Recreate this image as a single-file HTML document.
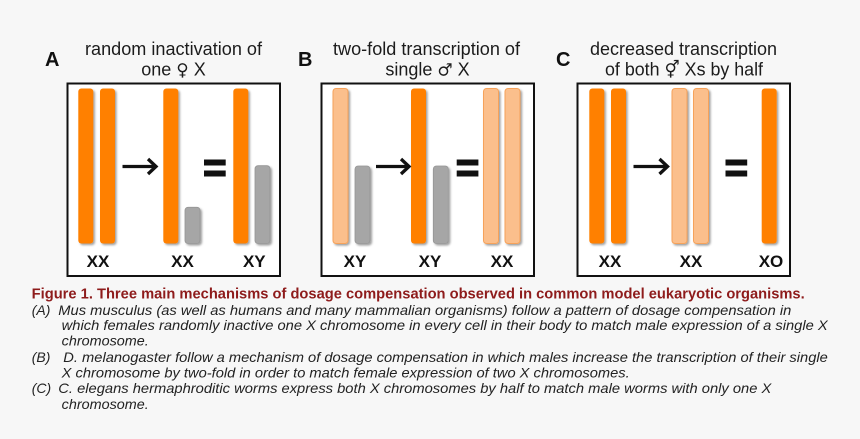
<!DOCTYPE html>
<html>
<head>
<meta charset="utf-8">
<style>
  html, body { margin: 0; padding: 0; background: #f7f7f7; }
  body { width: 860px; height: 439px; overflow: hidden; }
  svg { display: block; }
  .ttl { font-family: "Liberation Sans", "DejaVu Sans", sans-serif; font-size: 18px; fill: #1c1c1c; }
  .sym { font-family: "DejaVu Sans", sans-serif; font-size: 17px; }
  .let { font-family: "Liberation Sans", sans-serif; font-size: 20px; font-weight: bold; fill: #111; }
  .lab { font-family: "Liberation Sans", sans-serif; font-size: 17px; font-weight: bold; fill: #111; }
  .cap { font-family: "Liberation Sans", sans-serif; font-size: 14px; font-style: italic; fill: #222; }
  .head { font-family: "Liberation Sans", sans-serif; font-size: 14.5px; font-weight: bold; fill: #8e1b1b; }
</style>
</head>
<body>
<svg width="860" height="439" viewBox="0 0 860 439" xmlns="http://www.w3.org/2000/svg">
  <defs>
    <filter id="sh" x="-30%" y="-10%" width="180%" height="130%">
      <feDropShadow dx="1.6" dy="1.6" stdDeviation="1" flood-color="#000" flood-opacity="0.38"/>
    </filter>
  </defs>
  <rect x="0" y="0" width="860" height="439" fill="#f7f7f7"/>

  <!-- Panel letters -->
  <text class="let" x="45" y="66">A</text>
  <text class="let" x="298" y="66">B</text>
  <text class="let" x="556" y="66">C</text>

  <!-- Titles -->
  <text class="ttl" x="173.5" y="55" text-anchor="middle" textLength="177" lengthAdjust="spacingAndGlyphs">random inactivation of</text>
  <text class="ttl" x="173.5" y="75.5" text-anchor="middle">one <tspan class="sym">♀</tspan> X</text>
  <text class="ttl" x="426.5" y="55" text-anchor="middle" textLength="187" lengthAdjust="spacingAndGlyphs">two-fold transcription of</text>
  <text class="ttl" x="427.5" y="75.5" text-anchor="middle">single <tspan class="sym">♂</tspan> X</text>
  <text class="ttl" x="683.5" y="55" text-anchor="middle" textLength="187" lengthAdjust="spacingAndGlyphs">decreased transcription</text>
  <text class="ttl" x="684" y="75.5" text-anchor="middle" textLength="158" lengthAdjust="spacingAndGlyphs">of both <tspan class="sym">⚥</tspan> Xs by half</text>

  <!-- Boxes -->
  <rect x="67.5" y="83.5" width="212.5" height="192.5" fill="#fff" stroke="#111" stroke-width="2"/>
  <rect x="321.5" y="83.5" width="212.5" height="192.5" fill="#fff" stroke="#111" stroke-width="2"/>
  <rect x="577.5" y="83.5" width="212.5" height="192.5" fill="#fff" stroke="#111" stroke-width="2"/>

  <!-- Panel A bars -->
  <g filter="url(#sh)">
    <rect x="78.3" y="88.5" width="15" height="155" rx="3" fill="#ff8000"/>
    <rect x="100" y="88.5" width="15" height="155" rx="3" fill="#ff8000"/>
    <rect x="163.3" y="88.5" width="15" height="155" rx="3" fill="#ff8000"/>
    <rect x="185" y="207.3" width="15" height="36.2" rx="3" fill="#a6a6a6" stroke="#959595" stroke-width="0.8"/>
    <rect x="233.3" y="88.5" width="15" height="155" rx="3" fill="#ff8000"/>
    <rect x="255" y="165.7" width="15" height="77.8" rx="3" fill="#a6a6a6" stroke="#959595" stroke-width="0.8"/>
  </g>

  <!-- Panel B bars -->
  <g filter="url(#sh)">
    <rect x="333" y="88.5" width="15" height="155" rx="3" fill="#fbbf8c" stroke="#f6a25a" stroke-width="1"/>
    <rect x="355" y="166" width="15" height="77.5" rx="3" fill="#a6a6a6" stroke="#959595" stroke-width="0.8"/>
    <rect x="411" y="88.5" width="15" height="155" rx="3" fill="#ff8000"/>
    <rect x="433.3" y="166" width="15" height="77.5" rx="3" fill="#a6a6a6" stroke="#959595" stroke-width="0.8"/>
    <rect x="483.5" y="88.5" width="15" height="155" rx="3" fill="#fbbf8c" stroke="#f6a25a" stroke-width="1"/>
    <rect x="505" y="88.5" width="15" height="155" rx="3" fill="#fbbf8c" stroke="#f6a25a" stroke-width="1"/>
  </g>

  <!-- Panel C bars -->
  <g filter="url(#sh)">
    <rect x="589.3" y="88.5" width="15" height="155" rx="3" fill="#ff8000"/>
    <rect x="611" y="88.5" width="15" height="155" rx="3" fill="#ff8000"/>
    <rect x="672" y="88.5" width="15" height="155" rx="3" fill="#fbbf8c" stroke="#f6a25a" stroke-width="1"/>
    <rect x="693.5" y="88.5" width="15" height="155" rx="3" fill="#fbbf8c" stroke="#f6a25a" stroke-width="1"/>
    <rect x="761.7" y="88.5" width="15" height="155" rx="3" fill="#ff8000"/>
  </g>

  <!-- Arrows -->
  <g stroke="#111" stroke-width="3.3" fill="none" stroke-linecap="butt" stroke-linejoin="miter">
    <line x1="122.5" y1="166.5" x2="155" y2="166.5"/>
    <polyline points="148,159 156,166.5 148,174"/>
    <line x1="376" y1="166.5" x2="408" y2="166.5"/>
    <polyline points="401,159 409,166.5 401,174"/>
    <line x1="633.5" y1="166.5" x2="666.5" y2="166.5"/>
    <polyline points="659.5,159 667.5,166.5 659.5,174"/>
  </g>

  <!-- Equals -->
  <g fill="#111">
    <rect x="204" y="159.5" width="21.7" height="6"/>
    <rect x="204" y="170.5" width="21.7" height="6"/>
    <rect x="456.7" y="159.5" width="21.7" height="6"/>
    <rect x="456.7" y="170.5" width="21.7" height="6"/>
    <rect x="725.5" y="159.5" width="21.7" height="6"/>
    <rect x="725.5" y="170.5" width="21.7" height="6"/>
  </g>

  <!-- Labels -->
  <text class="lab" x="98" y="267" text-anchor="middle">XX</text>
  <text class="lab" x="182.5" y="267" text-anchor="middle">XX</text>
  <text class="lab" x="254.3" y="267" text-anchor="middle">XY</text>
  <text class="lab" x="355" y="267" text-anchor="middle">XY</text>
  <text class="lab" x="430" y="267" text-anchor="middle">XY</text>
  <text class="lab" x="502" y="267" text-anchor="middle">XX</text>
  <text class="lab" x="610" y="267" text-anchor="middle">XX</text>
  <text class="lab" x="691" y="267" text-anchor="middle">XX</text>
  <text class="lab" x="771" y="267" text-anchor="middle">XO</text>

  <!-- Caption -->
  <text class="head" x="31.7" y="298.5" textLength="773" lengthAdjust="spacingAndGlyphs">Figure 1. Three main mechanisms of dosage compensation observed in common model eukaryotic organisms.</text>

  <text class="cap" x="31.7" y="315">(A)</text>
  <text class="cap" x="58.3" y="315" textLength="733" lengthAdjust="spacingAndGlyphs">Mus musculus (as well as humans and many mammalian organisms) follow a pattern of dosage compensation in</text>
  <text class="cap" x="61.7" y="330" textLength="766" lengthAdjust="spacingAndGlyphs">which females randomly inactive one X chromosome in every cell in their body to match male expression of a single X</text>
  <text class="cap" x="61.7" y="345.5" textLength="87" lengthAdjust="spacingAndGlyphs">chromosome.</text>

  <text class="cap" x="31.7" y="362">(B)</text>
  <text class="cap" x="63.3" y="362" textLength="764.5" lengthAdjust="spacingAndGlyphs">D. melanogaster follow a mechanism of dosage compensation in which males increase the transcription of their single</text>
  <text class="cap" x="61.7" y="377.5" textLength="568" lengthAdjust="spacingAndGlyphs">X chromosome by two-fold in order to match female expression of two X chromosomes.</text>

  <text class="cap" x="31.7" y="393">(C)</text>
  <text class="cap" x="58.3" y="393" textLength="713" lengthAdjust="spacingAndGlyphs">C. elegans hermaphroditic worms express both X chromosomes by half to match male worms with only one X</text>
  <text class="cap" x="61.7" y="409" textLength="87" lengthAdjust="spacingAndGlyphs">chromosome.</text>
</svg>
</body>
</html>
